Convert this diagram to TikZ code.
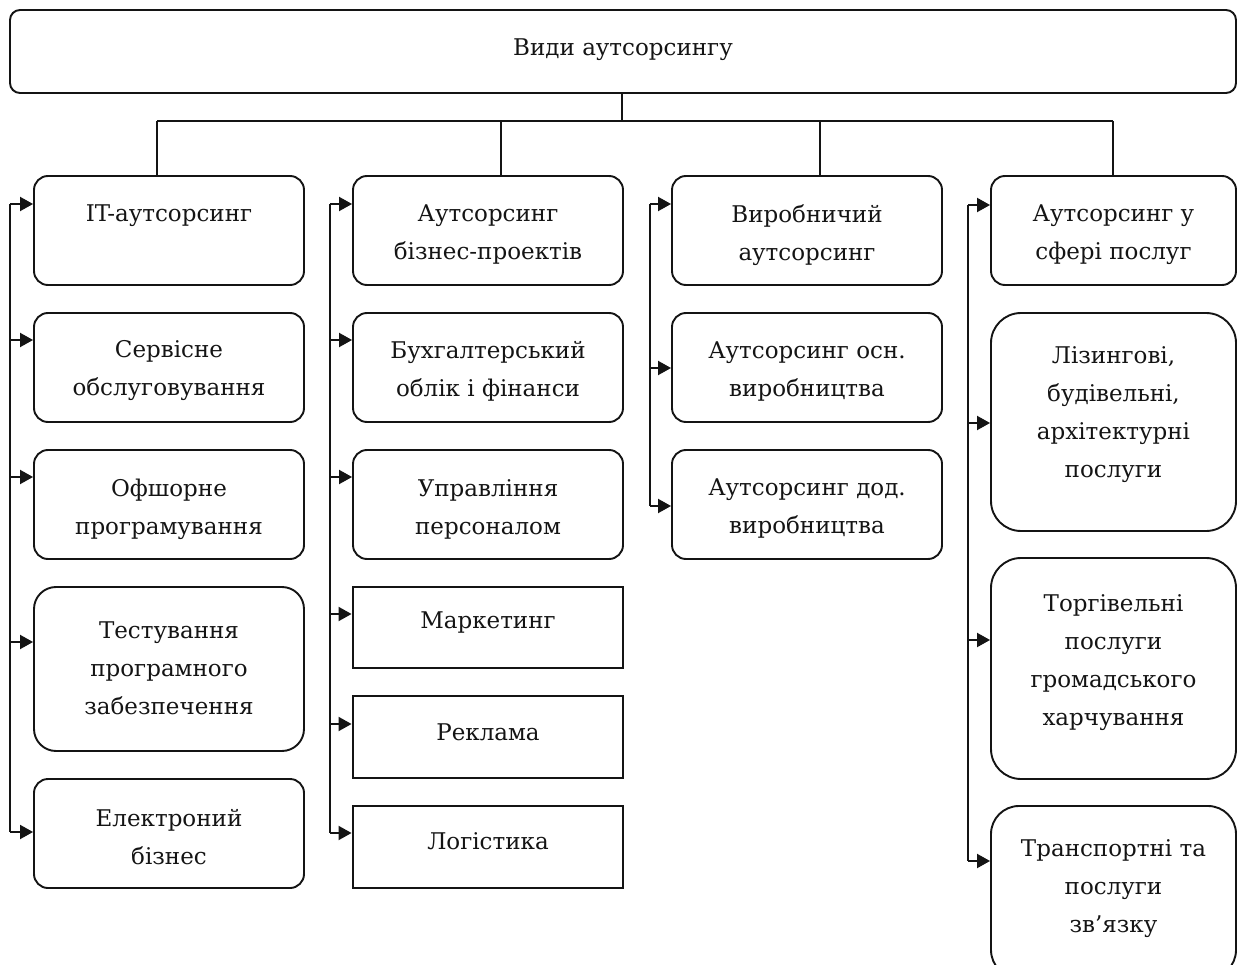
\documentclass[tikz,border=0pt]{standalone}
\usepackage{fontspec}
\setmainfont{DejaVu Serif}
\usetikzlibrary{arrows.meta}
\definecolor{ink}{HTML}{141414}
\tikzset{
  rbox/.style={draw=ink, line width=1.9pt, rounded corners=14pt, minimum width=270pt, minimum height=109pt, inner sep=0pt},
  sbox/.style={draw=ink, line width=2.9pt, minimum width=270pt, minimum height=82pt, inner sep=0pt},
  txt/.style={text=ink, align=center, inner sep=0pt, yshift=-3pt, font=\fontsize{23}{38}\selectfont},
  conn/.style={draw=ink, line width=1.9pt},
  arr/.style={conn, -{Triangle[length=13pt,width=14pt]}},
}
\begin{document}
\begin{tikzpicture}[x=1pt,y=-1pt]
\useasboundingbox (0,0) rectangle (1237,965);
\clip (0,0) rectangle (1237,965);
% top
\node[rbox, rounded corners=10pt, minimum width=1226pt, minimum height=83pt] (top) at (623,51.5) {};
\node[txt] (ttop) at (623,47) {Види аутсорсингу};
% column 1
\node[rbox] (it) at (169,230.5) {};
\node[rbox] (serv) at (169,367.5) {};
\node[rbox] (off) at (169,504.5) {};
\node[rbox, rounded corners=22pt, minimum height=164pt] (test) at (169,669) {};
\node[rbox] (el) at (169,833.5) {};
\node[txt] (t-it) at (169,213) {IT-аутсорсинг};
\node[txt] (t-serv) at (169,368) {Сервісне\\обслуговування};
\node[txt] (t-off) at (169,506) {Офшорне\\програмування};
\node[txt] (t-test) at (169,665) {Тестування\\програмного\\забезпечення};
\node[txt] (t-el) at (169,834) {Електроний\\бізнес};
% column 2
\node[rbox] (biz) at (488,230.5) {};
\node[rbox] (buh) at (488,367.5) {};
\node[rbox] (upr) at (488,504.5) {};
\node[sbox, minimum height=81pt] (mark) at (488,627.5) {};
\node[sbox] (rek) at (488,737) {};
\node[sbox] (log) at (488,847) {};
\node[txt] (t-biz) at (488,232) {Аутсорсинг\\бізнес-проектів};
\node[txt] (t-buh) at (488,368) {Бухгалтерський\\облік і фінанси};
\node[txt] (t-upr) at (488,506) {Управління\\персоналом};
\node[txt] (t-mark) at (488,620) {Маркетинг};
\node[txt] (t-rek) at (488,729) {Реклама};
\node[txt] (t-log) at (488,838) {Логістика};
% column 3
\node[rbox] (vyr) at (807,230.5) {};
\node[rbox] (osn) at (807,367.5) {};
\node[rbox] (dod) at (807,504.5) {};
\node[txt] (t-vyr) at (807,232) {Виробничий\\аутсорсинг};
\node[txt] (t-osn) at (807,369) {Аутсорсинг осн.\\виробництва};
\node[txt] (t-dod) at (807,506) {Аутсорсинг дод.\\виробництва};
% column 4
\node[rbox, minimum width=245pt] (posl) at (1113.5,230.5) {};
\node[rbox, minimum width=245pt, minimum height=218pt, rounded corners=30pt] (liz) at (1113.5,422) {};
\node[rbox, minimum width=245pt, minimum height=221pt, rounded corners=30pt] (torg) at (1113.5,668.5) {};
\node[rbox, minimum width=245pt, minimum height=172pt, rounded corners=28pt] (trans) at (1113.5,892) {};
\node[txt] (t-posl) at (1113.5,232) {Аутсорсинг у\\сфері послуг};
\node[txt] (t-liz) at (1113.5,412) {Лізингові,\\будівельні,\\архітектурні\\послуги};
\node[txt] (t-torg) at (1113.5,660) {Торгівельні\\послуги\\громадського\\харчування};
\node[txt] (t-trans) at (1113.5,886) {Транспортні та\\послуги\\зв’язку};
% tree from top
\coordinate (h0) at (622,121);
\coordinate (h1) at (157,121);
\coordinate (h2) at (501,121);
\coordinate (h3) at (820,121);
\coordinate (h4) at (1113,121);
\draw[conn] (top.south -| h0) -- (h0);
\draw[conn] (h1) -- (h4);
\draw[conn] (h1) -- (h1 |- it.north);
\draw[conn] (h2) -- (h2 |- biz.north);
\draw[conn] (h3) -- (h3 |- vyr.north);
\draw[conn] (h4) -- (h4 |- posl.north);
% column 1 bus
\coordinate (a1) at (10,204);
\coordinate (a2) at (10,340);
\coordinate (a3) at (10,477);
\coordinate (a4) at (10,642);
\coordinate (a5) at (10,832);
\draw[conn] (a1) -- (a5);
\draw[arr] (a1) -- (a1 -| it.west);
\draw[arr] (a2) -- (a2 -| serv.west);
\draw[arr] (a3) -- (a3 -| off.west);
\draw[arr] (a4) -- (a4 -| test.west);
\draw[arr] (a5) -- (a5 -| el.west);
% column 2 bus
\coordinate (b1) at (330,204);
\coordinate (b2) at (330,340);
\coordinate (b3) at (330,477);
\coordinate (b4) at (330,614);
\coordinate (b5) at (330,724);
\coordinate (b6) at (330,833);
\draw[conn] (b1) -- (b6);
\draw[arr] (b1) -- (b1 -| biz.west);
\draw[arr] (b2) -- (b2 -| buh.west);
\draw[arr] (b3) -- (b3 -| upr.west);
\draw[arr] (b4) -- (b4 -| mark.west);
\draw[arr] (b5) -- (b5 -| rek.west);
\draw[arr] (b6) -- (b6 -| log.west);
% column 3 bus
\coordinate (c1) at (650,204);
\coordinate (c2) at (650,368);
\coordinate (c3) at (650,506);
\draw[conn] (c1) -- (c3);
\draw[arr] (c1) -- (c1 -| vyr.west);
\draw[arr] (c2) -- (c2 -| osn.west);
\draw[arr] (c3) -- (c3 -| dod.west);
% column 4 bus
\coordinate (d1) at (968,205);
\coordinate (d2) at (968,423);
\coordinate (d3) at (968,640);
\coordinate (d4) at (968,861);
\draw[conn] (d1) -- (d4);
\draw[arr] (d1) -- (d1 -| posl.west);
\draw[arr] (d2) -- (d2 -| liz.west);
\draw[arr] (d3) -- (d3 -| torg.west);
\draw[arr] (d4) -- (d4 -| trans.west);
\end{tikzpicture}
\end{document}
